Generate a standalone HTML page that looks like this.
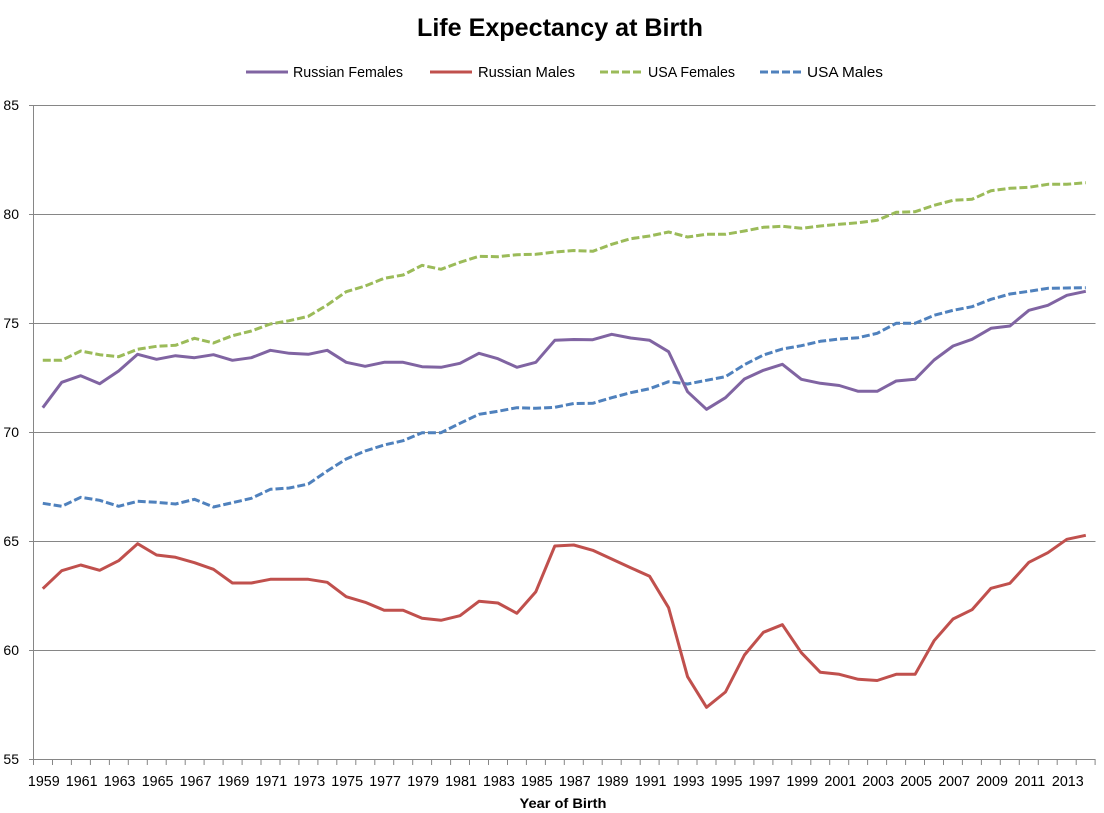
<!DOCTYPE html>
<html>
<head>
<meta charset="utf-8">
<style>
  html,body{margin:0;padding:0;background:#fff;}
  svg{display:block;}
  text{font-family:"Liberation Sans",Arial,sans-serif;fill:#000;}
</style>
</head>
<body>
<svg width="1104" height="813" viewBox="0 0 1104 813" xmlns="http://www.w3.org/2000/svg">
  <rect x="0" y="0" width="1104" height="813" fill="#fff"/>
  <!-- Title -->
  <text x="560" y="36" font-size="25" font-weight="bold" text-anchor="middle" textLength="286" lengthAdjust="spacingAndGlyphs">Life Expectancy at Birth</text>

  <!-- Legend -->
  <line x1="246" y1="72" x2="288" y2="72" stroke="#8064A2" stroke-width="3"/>
  <text x="293" y="77" font-size="14.5" textLength="110" lengthAdjust="spacingAndGlyphs">Russian Females</text>
  <line x1="430" y1="72" x2="472" y2="72" stroke="#C0504D" stroke-width="3"/>
  <text x="478" y="77" font-size="14.5" textLength="97" lengthAdjust="spacingAndGlyphs">Russian Males</text>
  <line x1="600" y1="72" x2="642" y2="72" stroke="#9BBB59" stroke-width="3" stroke-dasharray="8,3"/>
  <text x="648" y="77" font-size="14.5" textLength="87" lengthAdjust="spacingAndGlyphs">USA Females</text>
  <line x1="760" y1="72" x2="802" y2="72" stroke="#4F81BD" stroke-width="3" stroke-dasharray="8,3"/>
  <text x="807" y="77" font-size="14.5" textLength="76" lengthAdjust="spacingAndGlyphs">USA Males</text>

  <!-- Gridlines -->
  <g stroke="#868686" stroke-width="1">
    <line x1="29" y1="105.5" x2="1095.5" y2="105.5"/>
    <line x1="29" y1="214.5" x2="1095.5" y2="214.5"/>
    <line x1="29" y1="323.5" x2="1095.5" y2="323.5"/>
    <line x1="29" y1="432.5" x2="1095.5" y2="432.5"/>
    <line x1="29" y1="541.5" x2="1095.5" y2="541.5"/>
    <line x1="29" y1="650.5" x2="1095.5" y2="650.5"/>
    <line x1="29" y1="759.5" x2="1095.5" y2="759.5"/>
    <!-- y axis -->
    <line x1="33.5" y1="105" x2="33.5" y2="764"/>
  </g>
  <!-- X ticks -->
  <g stroke="#868686" stroke-width="1">
    <path d="M33.5 759V765M52.5 759V765M71.4 759V765M90.4 759V765M109.4 759V765M128.3 759V765M147.3 759V765M166.2 759V765M185.2 759V765M204.1 759V765M223.1 759V765M242.1 759V765M261 759V765M280 759V765M298.9 759V765M317.9 759V765M336.8 759V765M355.8 759V765M374.8 759V765M393.7 759V765M412.7 759V765M431.6 759V765M450.6 759V765M469.5 759V765M488.5 759V765M507.5 759V765M526.4 759V765M545.4 759V765M564.3 759V765M583.3 759V765M602.2 759V765M621.2 759V765M640.2 759V765M659.1 759V765M678.1 759V765M697 759V765M716 759V765M734.9 759V765M753.9 759V765M772.9 759V765M791.8 759V765M810.8 759V765M829.7 759V765M848.7 759V765M867.6 759V765M886.6 759V765M905.6 759V765M924.5 759V765M943.5 759V765M962.4 759V765M981.4 759V765M1000.3 759V765M1019.3 759V765M1038.3 759V765M1057.2 759V765M1076.2 759V765M1095.1 759V765"/>
  </g>

  <!-- Y labels -->
  <g font-size="14" text-anchor="end">
    <text x="19" y="110">85</text>
    <text x="19" y="219">80</text>
    <text x="19" y="328">75</text>
    <text x="19" y="437">70</text>
    <text x="19" y="546">65</text>
    <text x="19" y="655">60</text>
    <text x="19" y="764">55</text>
  </g>

  <!-- X labels -->
  <g font-size="14.3" text-anchor="middle">
    <text x="43.8" y="786">1959</text>
    <text x="81.7" y="786">1961</text>
    <text x="119.6" y="786">1963</text>
    <text x="157.6" y="786">1965</text>
    <text x="195.5" y="786">1967</text>
    <text x="233.4" y="786">1969</text>
    <text x="271.3" y="786">1971</text>
    <text x="309.3" y="786">1973</text>
    <text x="347.2" y="786">1975</text>
    <text x="385.1" y="786">1977</text>
    <text x="423.1" y="786">1979</text>
    <text x="461" y="786">1981</text>
    <text x="498.9" y="786">1983</text>
    <text x="536.8" y="786">1985</text>
    <text x="574.8" y="786">1987</text>
    <text x="612.7" y="786">1989</text>
    <text x="650.6" y="786">1991</text>
    <text x="688.6" y="786">1993</text>
    <text x="726.5" y="786">1995</text>
    <text x="764.4" y="786">1997</text>
    <text x="802.3" y="786">1999</text>
    <text x="840.3" y="786">2001</text>
    <text x="878.2" y="786">2003</text>
    <text x="916.1" y="786">2005</text>
    <text x="954.1" y="786">2007</text>
    <text x="992" y="786">2009</text>
    <text x="1029.9" y="786">2011</text>
    <text x="1067.8" y="786">2013</text>
  </g>
  <text x="563" y="808" font-size="14" font-weight="bold" text-anchor="middle" textLength="87" lengthAdjust="spacingAndGlyphs">Year of Birth</text>

  <!-- Series -->
  <g fill="none" stroke-width="3" stroke-linejoin="round" stroke-linecap="butt">
    <!-- USA Females -->
    <polyline stroke="#9BBB59" stroke-dasharray="8,3" points="42.78,360.3 61.74,360.3 80.71,351 99.67,354.7 118.64,356.7 137.6,349.3 156.56,346.3 175.53,345.3 194.49,338.3 213.46,343 232.42,335.7 251.38,331 270.35,324 289.31,320.7 308.28,316.3 327.24,305 346.2,291.7 365.17,286 384.13,278.3 403.1,275 422.06,265.3 441.02,269.3 459.99,262.3 478.95,256.3 497.92,256.7 516.88,254.7 535.84,254.3 554.81,252 573.77,250.5 592.74,251.3 611.7,244.3 630.66,238.7 649.63,236 668.59,232 687.56,237 706.52,234.3 725.48,234.3 744.45,231 763.41,227.3 782.38,226.3 801.34,228.3 820.3,226 839.27,224.3 858.23,222.7 877.2,220.3 896.16,212.3 915.12,211.7 934.09,205.3 953.05,200.3 972.02,199.3 990.98,190.7 1009.94,188.3 1028.91,187.3 1047.87,184.3 1066.84,184.3 1085.8,182.7"/>
    <!-- USA Males -->
    <polyline stroke="#4F81BD" stroke-dasharray="8,3" points="42.78,503.3 61.74,506.3 80.71,497.3 99.67,500.3 118.64,506.3 137.6,501.3 156.56,502.3 175.53,504 194.49,499.3 213.46,507 232.42,502.7 251.38,498.3 270.35,489.3 289.31,488 308.28,484 327.24,471 346.2,459 365.17,451 384.13,445 403.1,440.7 422.06,432.7 441.02,432.7 459.99,423.3 478.95,414.3 497.92,411.3 516.88,407.7 535.84,408.3 554.81,407.3 573.77,403.5 592.74,403.3 611.7,397.7 630.66,392.7 649.63,388.7 668.59,381.7 687.56,384 706.52,380.3 725.48,376.7 744.45,364.7 763.41,355 782.38,349 801.34,345.7 820.3,341.3 839.27,339 858.23,337.7 877.2,333.3 896.16,323.3 915.12,323.3 934.09,315.3 953.05,310.3 972.02,306.7 990.98,299.3 1009.94,294 1028.91,291.3 1047.87,288.3 1066.84,288 1085.8,287.7"/>
    <!-- Russian Females -->
    <polyline stroke="#8064A2" points="42.78,407.7 61.74,382.3 80.71,375.7 99.67,383.7 118.64,371 137.6,354.3 156.56,359.3 175.53,355.7 194.49,357.7 213.46,354.7 232.42,360.3 251.38,357.7 270.35,350.3 289.31,353.3 308.28,354.3 327.24,350.3 346.2,362.3 365.17,366.3 384.13,362.3 403.1,362.3 422.06,366.7 441.02,367.3 459.99,363.3 478.95,353.3 497.92,358.7 516.88,367.3 535.84,362.3 554.81,340.3 573.77,339.5 592.74,339.7 611.7,334.3 630.66,338 649.63,340.3 668.59,351.7 687.56,391.7 706.52,409.3 725.48,397.7 744.45,379 763.41,370.3 782.38,364.3 801.34,379.3 820.3,383.3 839.27,385.5 858.23,391.3 877.2,391.3 896.16,381 915.12,379.3 934.09,360 953.05,346 972.02,339.3 990.98,328.3 1009.94,326 1028.91,310.3 1047.87,305.3 1066.84,295.3 1085.8,291.3"/>
    <!-- Russian Males -->
    <polyline stroke="#C0504D" points="42.78,588.7 61.74,570.7 80.71,565 99.67,570.3 118.64,560.7 137.6,543.7 156.56,555 175.53,557.3 194.49,562.7 213.46,569.3 232.42,583 251.38,583 270.35,579.3 289.31,579.3 308.28,579.3 327.24,582.3 346.2,596.7 365.17,602.3 384.13,610.2 403.1,610.3 422.06,618.3 441.02,620.3 459.99,615.7 478.95,601.3 497.92,603 516.88,613.3 535.84,591.7 554.81,546 573.77,545 592.74,550.3 611.7,559 630.66,567.7 649.63,576.3 668.59,607.7 687.56,676.7 706.52,707.3 725.48,692 744.45,655 763.41,632.3 782.38,624.7 801.34,652.7 820.3,672.3 839.27,674.3 858.23,679.3 877.2,680.5 896.16,674.3 915.12,674.3 934.09,640.7 953.05,619 972.02,609.7 990.98,588.3 1009.94,583.3 1028.91,562.3 1047.87,552.7 1066.84,539.3 1085.8,535.3"/>
  </g>
</svg>
</body>
</html>
